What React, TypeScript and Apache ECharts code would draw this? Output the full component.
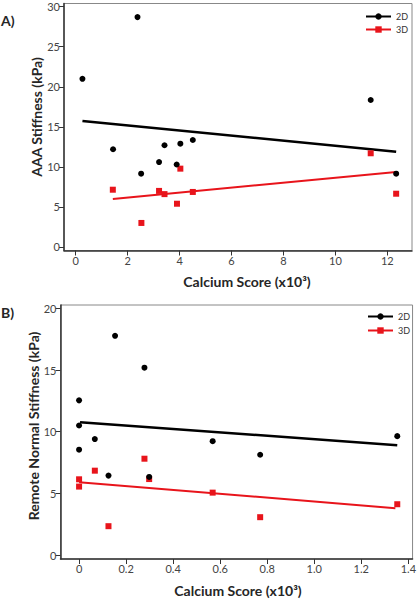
import React, { useEffect, useRef } from "react";
import * as echarts from "echarts";

// ---------- Panel A: AAA stiffness vs calcium score ----------
const a2dX = [0.26, 2.38, 1.44, 2.52, 3.21, 3.42, 3.89, 4.03, 4.51, 11.36, 12.34];
const a2dY = [21.0, 28.7, 12.2, 9.15, 10.6, 12.7, 10.3, 12.9, 13.36, 18.35, 9.15];
const a3dX = [1.43, 2.53, 3.21, 3.42, 3.9, 4.03, 4.51, 11.36, 12.34];
const a3dY = [7.15, 3.0, 7.0, 6.6, 5.4, 9.78, 6.87, 11.7, 6.65];
const aFit2dX = [0.26, 12.34];
const aFit2dY = [15.73, 11.9];
const aFit3dX = [1.43, 12.34];
const aFit3dY = [6.0, 9.36];
const aXTicks = [0, 2, 4, 6, 8, 10, 12];
const aYTicks = [0, 5, 10, 15, 20, 25, 30];

// ---------- Panel B: Remote normal stiffness vs calcium score ----------
const b2dX = [0, 0, 0, 0.067, 0.125, 0.153, 0.278, 0.298, 0.568, 0.77, 1.353];
const b2dY = [12.54, 10.5, 8.54, 9.4, 6.44, 17.77, 15.19, 6.33, 9.23, 8.13, 9.64];
const b3dX = [0, 0, 0.067, 0.125, 0.278, 0.298, 0.568, 0.77, 1.353];
const b3dY = [6.14, 5.55, 6.84, 2.34, 7.81, 6.16, 5.06, 3.07, 4.12];
const bFit2dX = [0.004, 1.353];
const bFit2dY = [10.77, 8.91];
const bFit3dX = [0, 1.345];
const bFit3dY = [5.9, 3.8];
const bXTicks = [0, 0.2, 0.4, 0.6, 0.8, 1.0, 1.2, 1.4];
const bYTicks = [0, 5, 10, 15, 20];

const seriesNames = ["2D", "3D"];
const panelLabels = ["A)", "B)"];
const xTitle = "Calcium Score (x10³)";
const yTitles = ["AAA Stiffness (kPa)", "Remote Normal Stiffness (kPa)"];

const BLACK = "#000000";
const RED = "#e8141b";
const FONT = "Lato, 'Open Sans', sans-serif";

const zip = (xs: number[], ys: number[]) => xs.map((x, i) => [x, ys[i]]);

function makeAxis(gridIndex: number, min: number, max: number, ticks: number[], fmt?: (v: number) => string) {
  return {
    type: "value",
    gridIndex,
    min,
    max,
    splitLine: { show: false },
    axisLine: { show: true, onZero: false, lineStyle: { color: "#333", width: 1.5 } },
    axisTick: { show: true, length: 5, customValues: ticks, lineStyle: { color: "#333", width: 1 } },
    axisLabel: {
      customValues: ticks,
      color: "#444",
      fontSize: 11,
      fontFamily: FONT,
      margin: 4,
      formatter: fmt,
    },
  };
}

function panelSeries(idx: number, fit2: number[][], fit3: number[][], p2: number[][], p3: number[][]) {
  return [
    {
      name: seriesNames[0], type: "line", xAxisIndex: idx, yAxisIndex: idx, data: fit2,
      symbol: "circle", symbolSize: 6, showSymbol: false, lineStyle: { color: BLACK, width: 2.5 },
      itemStyle: { color: BLACK }, z: 3,
    },
    {
      name: seriesNames[1], type: "line", xAxisIndex: idx, yAxisIndex: idx, data: fit3,
      symbol: "rect", symbolSize: 6, showSymbol: false, lineStyle: { color: RED, width: 2 },
      itemStyle: { color: RED }, z: 2,
    },
    {
      name: seriesNames[1], type: "scatter", xAxisIndex: idx, yAxisIndex: idx, data: p3,
      symbol: "rect", symbolSize: 6, itemStyle: { color: RED, opacity: 1 }, z: 4,
    },
    {
      name: seriesNames[0], type: "scatter", xAxisIndex: idx, yAxisIndex: idx, data: p2,
      symbol: "circle", symbolSize: 6, itemStyle: { color: BLACK, opacity: 1 }, z: 5,
    },
  ];
}

export default function App() {
  const ref = useRef<HTMLDivElement>(null);
  useEffect(() => {
    if (!ref.current) return;
    const chart = echarts.init(ref.current, undefined, { renderer: "svg" });
    const legendBase = {
      orient: "vertical",
      itemWidth: 25,
      itemHeight: 8,
      data: seriesNames,
      textStyle: { color: "#333", fontSize: 9, fontFamily: FONT },
      selectedMode: false,
      padding: 0,
    };
    const titleStyle = { font: `bold 14px ${FONT}`, fill: "#262626", textAlign: "center", textVerticalAlign: "middle" };
    chart.setOption({
      animation: false,
      backgroundColor: "#ffffff",
      grid: [
        { left: 64, top: 3.5, width: 348, height: 247, show: true, borderColor: "#888", borderWidth: 1 },
        { left: 60.5, top: 305, width: 355.5, height: 254, show: true, borderColor: "#888", borderWidth: 1 },
      ],
      xAxis: [
        makeAxis(0, -0.45, 12.95, aXTicks),
        makeAxis(1, -0.079, 1.418, bXTicks, (v: number) => (v === 0 ? "0" : v.toFixed(1))),
      ],
      yAxis: [
        makeAxis(0, -0.44, 30.4, aYTicks),
        makeAxis(1, -0.32, 20.27, bYTicks),
      ],
      legend: [
        { ...legendBase, left: 365, top: 12, itemGap: 4 },
        { ...legendBase, left: 367, top: 312, itemGap: 5 },
      ],
      series: [
        ...panelSeries(0, zip(aFit2dX, aFit2dY), zip(aFit3dX, aFit3dY), zip(a2dX, a2dY), zip(a3dX, a3dY)),
        ...panelSeries(1, zip(bFit2dX, bFit2dY), zip(bFit3dX, bFit3dY), zip(b2dX, b2dY), zip(b3dX, b3dY)),
      ],
      graphic: [
        { type: "text", left: 1, top: 13, style: { text: panelLabels[0], font: `bold 14px ${FONT}`, fill: "#262626" } },
        { type: "text", left: 1, top: 305, style: { text: panelLabels[1], font: `bold 14px ${FONT}`, fill: "#262626" } },
        { type: "text", x: 247, y: 281, style: { text: xTitle, ...titleStyle } },
        { type: "text", x: 238, y: 590, style: { text: xTitle, ...titleStyle } },
        { type: "text", x: 36, y: 117, rotation: Math.PI / 2, style: { text: yTitles[0], ...titleStyle } },
        { type: "text", x: 33, y: 426, rotation: Math.PI / 2, style: { text: yTitles[1], ...titleStyle } },
      ],
    });
    return () => chart.dispose();
  }, []);
  return <div ref={ref} style={{ position: "fixed", left: 0, top: 0, width: 419, height: 599 }} />;
}
